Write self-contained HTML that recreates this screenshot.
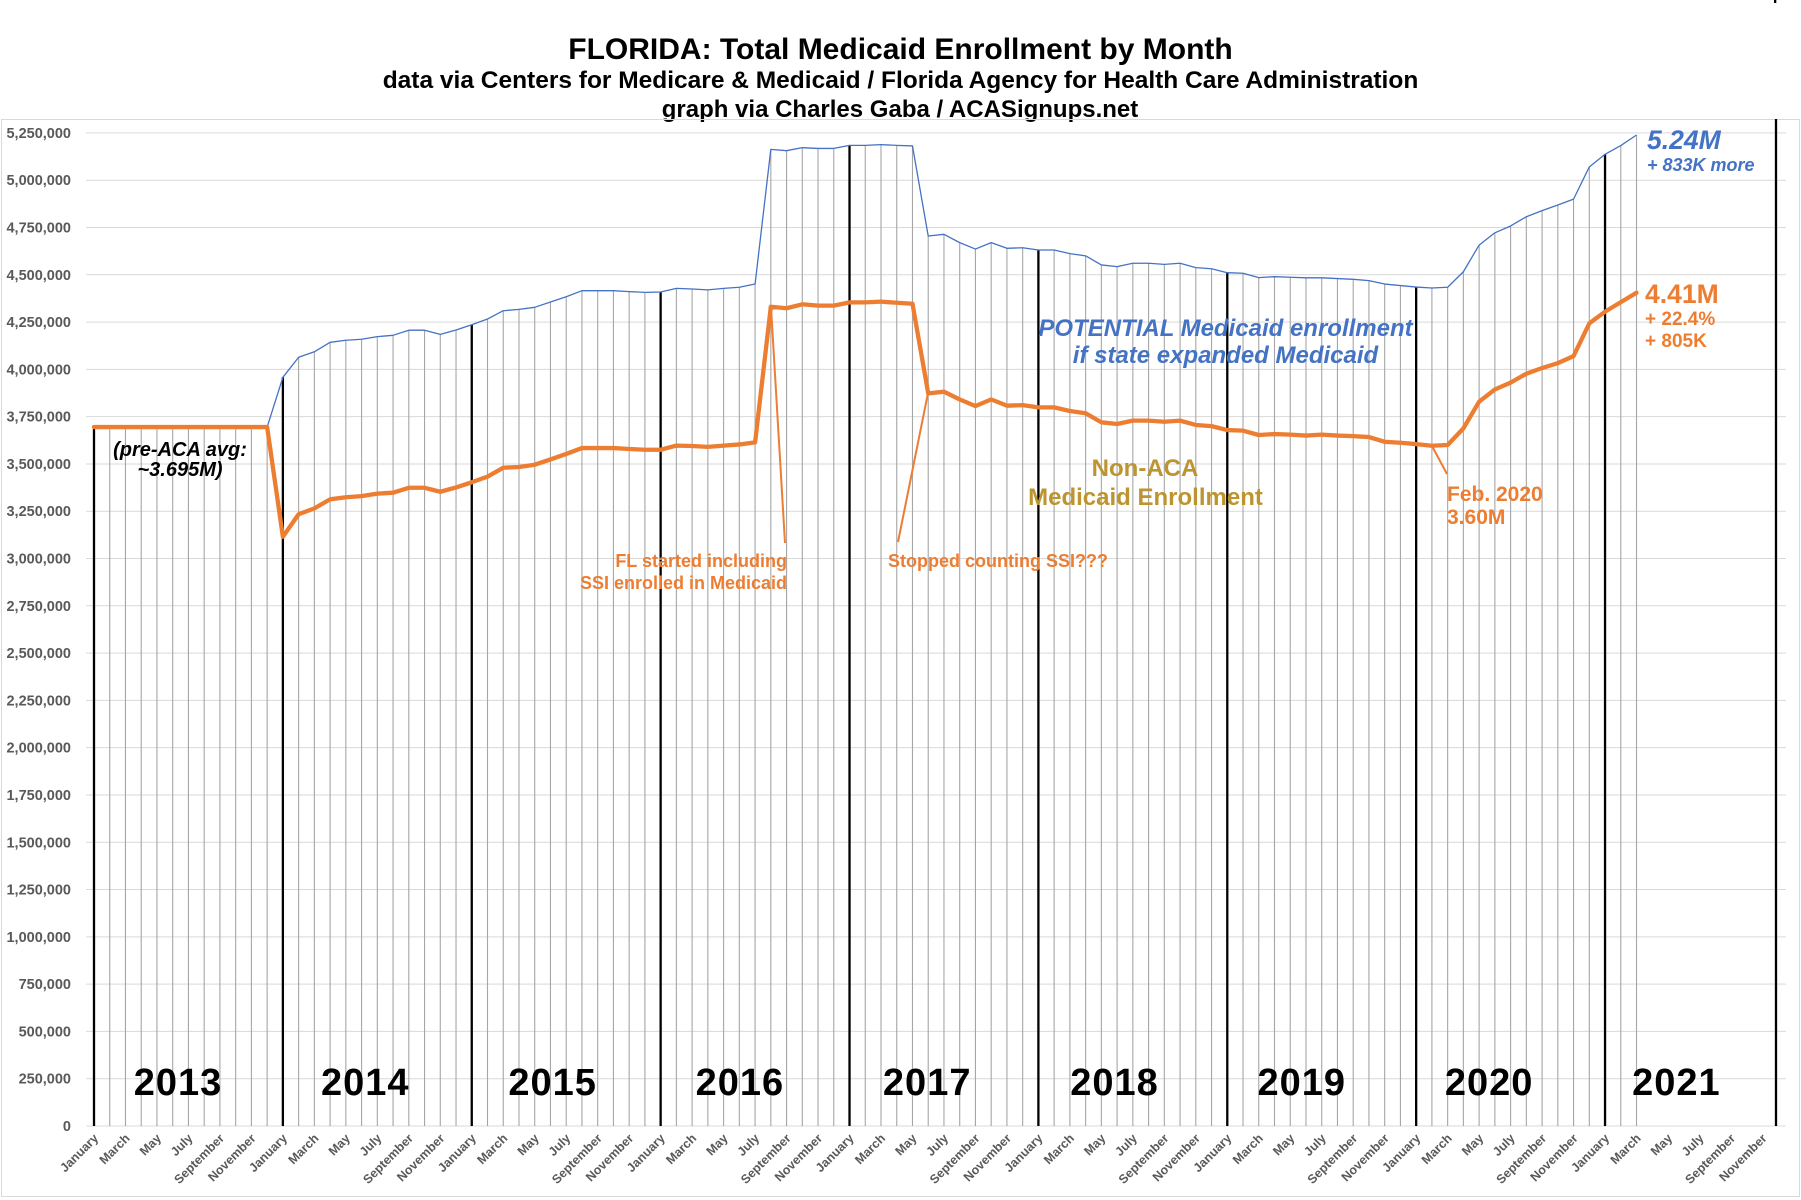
<!DOCTYPE html>
<html><head><meta charset="utf-8"><style>
html,body{margin:0;padding:0;background:#fff;}
svg{display:block;font-family:"Liberation Sans",Arial,sans-serif;}
</style></head><body>
<svg width="1801" height="1200" viewBox="0 0 1801 1200" xmlns="http://www.w3.org/2000/svg">
<rect x="0" y="0" width="1801" height="1200" fill="#fff"/>
<!-- titles -->
<text x="900.5" y="59" text-anchor="middle" font-size="30" font-weight="bold" fill="#000">FLORIDA: Total Medicaid Enrollment by Month</text>
<text x="900.5" y="88" text-anchor="middle" font-size="24.5" font-weight="bold" fill="#000">data via Centers for Medicare &amp; Medicaid / Florida Agency for Health Care Administration</text>
<text x="900" y="117" text-anchor="middle" font-size="24" font-weight="bold" fill="#000">graph via Charles Gaba / ACASignups.net</text>
<!-- plot border -->
<rect x="1.5" y="119.5" width="1798" height="1077" fill="none" stroke="#d9d9d9" stroke-width="1"/>
<rect x="1774" y="0" width="2.3" height="3" fill="#000"/>
<!-- gridlines -->
<path fill="none" stroke="#d9d9d9" stroke-width="1" d="M86,1126H1786M86,1078.71H1786M86,1031.42H1786M86,984.13H1786M86,936.84H1786M86,889.55H1786M86,842.26H1786M86,794.97H1786M86,747.68H1786M86,700.39H1786M86,653.1H1786M86,605.81H1786M86,558.52H1786M86,511.23H1786M86,463.94H1786M86,416.65H1786M86,369.36H1786M86,322.07H1786M86,274.78H1786M86,227.49H1786M86,180.2H1786M86,132.91H1786"/>
<!-- y labels -->
<g font-size="14.5" font-weight="bold" fill="#595959" text-anchor="end">
<text x="71" y="1131">0</text>
<text x="71" y="1083.7">250,000</text>
<text x="71" y="1036.4">500,000</text>
<text x="71" y="989.1">750,000</text>
<text x="71" y="941.8">1,000,000</text>
<text x="71" y="894.5">1,250,000</text>
<text x="71" y="847.3">1,500,000</text>
<text x="71" y="800">1,750,000</text>
<text x="71" y="752.7">2,000,000</text>
<text x="71" y="705.4">2,250,000</text>
<text x="71" y="658.1">2,500,000</text>
<text x="71" y="610.8">2,750,000</text>
<text x="71" y="563.5">3,000,000</text>
<text x="71" y="516.2">3,250,000</text>
<text x="71" y="468.9">3,500,000</text>
<text x="71" y="421.6">3,750,000</text>
<text x="71" y="374.4">4,000,000</text>
<text x="71" y="327.1">4,250,000</text>
<text x="71" y="279.8">4,500,000</text>
<text x="71" y="232.5">4,750,000</text>
<text x="71" y="185.2">5,000,000</text>
<text x="71" y="137.9">5,250,000</text>
</g>
<!-- data group -->
<g transform="translate(94,1126) scale(15.74,-189.16)" fill="none">
<path vector-effect="non-scaling-stroke" stroke="#a6a6a6" stroke-width="1.1" d="M0,0V3.695M1,0V3.695M2,0V3.695M3,0V3.695M4,0V3.695M5,0V3.695M6,0V3.695M7,0V3.695M8,0V3.695M9,0V3.695M10,0V3.695M11,0V3.695M12,0V3.958M13,0V4.064M14,0V4.093M15,0V4.143M16,0V4.154M17,0V4.159M18,0V4.173M19,0V4.18M20,0V4.207M21,0V4.207M22,0V4.185M23,0V4.208M24,0V4.236M25,0V4.266M26,0V4.31M27,0V4.317M28,0V4.328M29,0V4.356M30,0V4.384M31,0V4.416M32,0V4.416M33,0V4.416M34,0V4.411M35,0V4.407M36,0V4.409M37,0V4.428M38,0V4.425M39,0V4.42M40,0V4.428M41,0V4.434M42,0V4.451M43,0V5.163M44,0V5.156M45,0V5.172M46,0V5.168M47,0V5.168M48,0V5.184M49,0V5.184M50,0V5.188M51,0V5.184M52,0V5.181M53,0V4.705M54,0V4.714M55,0V4.67M56,0V4.636M57,0V4.67M58,0V4.64M59,0V4.643M60,0V4.631M61,0V4.631M62,0V4.612M63,0V4.6M64,0V4.552M65,0V4.543M66,0V4.561M67,0V4.561M68,0V4.555M69,0V4.561M70,0V4.538M71,0V4.532M72,0V4.511M73,0V4.508M74,0V4.485M75,0V4.49M76,0V4.487M77,0V4.484M78,0V4.484M79,0V4.48M80,0V4.476M81,0V4.469M82,0V4.451M83,0V4.443M84,0V4.435M85,0V4.43M86,0V4.434M87,0V4.516M88,0V4.657M89,0V4.722M90,0V4.758M91,0V4.807M92,0V4.839M93,0V4.869M94,0V4.9M95,0V5.07M96,0V5.137M97,0V5.183M98,0V5.239"/>
<path vector-effect="non-scaling-stroke" stroke="#000" stroke-width="2.3" d="M0,0V3.695M12,0V3.958M24,0V4.236M36,0V4.409M48,0V5.184M60,0V4.631M72,0V4.511M84,0V4.435M96,0V5.137"/>
<polyline vector-effect="non-scaling-stroke" stroke="#4472c4" stroke-width="1.3" stroke-linejoin="round" points="0,3.695 1,3.695 2,3.695 3,3.695 4,3.695 5,3.695 6,3.695 7,3.695 8,3.695 9,3.695 10,3.695 11,3.695 12,3.958 13,4.064 14,4.093 15,4.143 16,4.154 17,4.159 18,4.173 19,4.18 20,4.207 21,4.207 22,4.185 23,4.208 24,4.236 25,4.266 26,4.31 27,4.317 28,4.328 29,4.356 30,4.384 31,4.416 32,4.416 33,4.416 34,4.411 35,4.407 36,4.409 37,4.428 38,4.425 39,4.42 40,4.428 41,4.434 42,4.451 43,5.163 44,5.156 45,5.172 46,5.168 47,5.168 48,5.184 49,5.184 50,5.188 51,5.184 52,5.181 53,4.705 54,4.714 55,4.67 56,4.636 57,4.67 58,4.64 59,4.643 60,4.631 61,4.631 62,4.612 63,4.6 64,4.552 65,4.543 66,4.561 67,4.561 68,4.555 69,4.561 70,4.538 71,4.532 72,4.511 73,4.508 74,4.485 75,4.49 76,4.487 77,4.484 78,4.484 79,4.48 80,4.476 81,4.469 82,4.451 83,4.443 84,4.435 85,4.43 86,4.434 87,4.516 88,4.657 89,4.722 90,4.758 91,4.807 92,4.839 93,4.869 94,4.9 95,5.07 96,5.137 97,5.183 98,5.239"/>
<polyline vector-effect="non-scaling-stroke" stroke="#ed7d31" stroke-width="4.3" stroke-linejoin="round" stroke-linecap="round" points="0,3.695 1,3.695 2,3.695 3,3.695 4,3.695 5,3.695 6,3.695 7,3.695 8,3.695 9,3.695 10,3.695 11,3.695 12,3.115 13,3.234 14,3.265 15,3.313 16,3.324 17,3.33 18,3.343 19,3.348 20,3.374 21,3.374 22,3.353 23,3.376 24,3.403 25,3.433 26,3.48 27,3.484 28,3.496 29,3.524 30,3.553 31,3.584 32,3.584 33,3.584 34,3.579 35,3.575 36,3.575 37,3.597 38,3.595 39,3.59 40,3.597 41,3.603 42,3.614 43,4.331 44,4.323 45,4.344 46,4.337 47,4.337 48,4.354 49,4.354 50,4.358 51,4.352 52,4.347 53,3.873 54,3.882 55,3.841 56,3.806 57,3.841 58,3.808 59,3.811 60,3.799 61,3.799 62,3.78 63,3.768 64,3.72 65,3.711 66,3.729 67,3.729 68,3.723 69,3.729 70,3.706 71,3.7 72,3.679 73,3.676 74,3.653 75,3.658 76,3.655 77,3.65 78,3.655 79,3.65 80,3.647 81,3.642 82,3.617 83,3.612 84,3.605 85,3.596 86,3.6 87,3.688 88,3.829 89,3.894 90,3.93 91,3.977 92,4.007 93,4.033 94,4.07 95,4.243 96,4.305 97,4.355 98,4.405"/>
</g>
<!-- final black line -->
<line x1="1776" y1="119" x2="1776" y2="1126" stroke="#000" stroke-width="2.3"/>
<!-- leader lines -->
<g stroke="#ed7d31" stroke-width="2" fill="none">
<line x1="771" y1="307" x2="785" y2="543"/>
<line x1="898" y1="542" x2="928" y2="393"/>
<line x1="1432" y1="446" x2="1447" y2="474"/>
</g>
<!-- x labels -->
<g font-size="12.5" font-weight="bold" fill="#595959" text-anchor="end">
<text transform="translate(99,1139) rotate(-45)">January</text>
<text transform="translate(130.48,1139) rotate(-45)">March</text>
<text transform="translate(161.96,1139) rotate(-45)">May</text>
<text transform="translate(193.44,1139) rotate(-45)">July</text>
<text transform="translate(224.92,1139) rotate(-45)">September</text>
<text transform="translate(256.4,1139) rotate(-45)">November</text>
<text transform="translate(287.88,1139) rotate(-45)">January</text>
<text transform="translate(319.36,1139) rotate(-45)">March</text>
<text transform="translate(350.84,1139) rotate(-45)">May</text>
<text transform="translate(382.32,1139) rotate(-45)">July</text>
<text transform="translate(413.8,1139) rotate(-45)">September</text>
<text transform="translate(445.28,1139) rotate(-45)">November</text>
<text transform="translate(476.76,1139) rotate(-45)">January</text>
<text transform="translate(508.24,1139) rotate(-45)">March</text>
<text transform="translate(539.72,1139) rotate(-45)">May</text>
<text transform="translate(571.2,1139) rotate(-45)">July</text>
<text transform="translate(602.68,1139) rotate(-45)">September</text>
<text transform="translate(634.16,1139) rotate(-45)">November</text>
<text transform="translate(665.64,1139) rotate(-45)">January</text>
<text transform="translate(697.12,1139) rotate(-45)">March</text>
<text transform="translate(728.6,1139) rotate(-45)">May</text>
<text transform="translate(760.08,1139) rotate(-45)">July</text>
<text transform="translate(791.56,1139) rotate(-45)">September</text>
<text transform="translate(823.04,1139) rotate(-45)">November</text>
<text transform="translate(854.52,1139) rotate(-45)">January</text>
<text transform="translate(886,1139) rotate(-45)">March</text>
<text transform="translate(917.48,1139) rotate(-45)">May</text>
<text transform="translate(948.96,1139) rotate(-45)">July</text>
<text transform="translate(980.44,1139) rotate(-45)">September</text>
<text transform="translate(1011.92,1139) rotate(-45)">November</text>
<text transform="translate(1043.4,1139) rotate(-45)">January</text>
<text transform="translate(1074.88,1139) rotate(-45)">March</text>
<text transform="translate(1106.36,1139) rotate(-45)">May</text>
<text transform="translate(1137.84,1139) rotate(-45)">July</text>
<text transform="translate(1169.32,1139) rotate(-45)">September</text>
<text transform="translate(1200.8,1139) rotate(-45)">November</text>
<text transform="translate(1232.28,1139) rotate(-45)">January</text>
<text transform="translate(1263.76,1139) rotate(-45)">March</text>
<text transform="translate(1295.24,1139) rotate(-45)">May</text>
<text transform="translate(1326.72,1139) rotate(-45)">July</text>
<text transform="translate(1358.2,1139) rotate(-45)">September</text>
<text transform="translate(1389.68,1139) rotate(-45)">November</text>
<text transform="translate(1421.16,1139) rotate(-45)">January</text>
<text transform="translate(1452.64,1139) rotate(-45)">March</text>
<text transform="translate(1484.12,1139) rotate(-45)">May</text>
<text transform="translate(1515.6,1139) rotate(-45)">July</text>
<text transform="translate(1547.08,1139) rotate(-45)">September</text>
<text transform="translate(1578.56,1139) rotate(-45)">November</text>
<text transform="translate(1610.04,1139) rotate(-45)">January</text>
<text transform="translate(1641.52,1139) rotate(-45)">March</text>
<text transform="translate(1673,1139) rotate(-45)">May</text>
<text transform="translate(1704.48,1139) rotate(-45)">July</text>
<text transform="translate(1735.96,1139) rotate(-45)">September</text>
<text transform="translate(1767.44,1139) rotate(-45)">November</text>
</g>
<!-- year labels -->
<g font-size="38" font-weight="bold" fill="#000" text-anchor="middle" letter-spacing="1">
<text x="178" y="1095">2013</text>
<text x="365.3" y="1095">2014</text>
<text x="552.6" y="1095">2015</text>
<text x="739.9" y="1095">2016</text>
<text x="927.2" y="1095">2017</text>
<text x="1114.5" y="1095">2018</text>
<text x="1301.8" y="1095">2019</text>
<text x="1489.1" y="1095">2020</text>
<text x="1676.4" y="1095">2021</text>
</g>
<!-- annotations -->
<g font-size="20" font-weight="bold" font-style="italic" fill="#000" text-anchor="middle">
<text x="180" y="456">(pre-ACA avg:</text>
<text x="180" y="476">~3.695M)</text>
</g>
<g font-size="18" font-weight="bold" fill="#ed7d31">
<text x="787" y="567" text-anchor="end">FL started including</text>
<text x="787" y="589" text-anchor="end">SSI enrolled in Medicaid</text>
<text x="888" y="567">Stopped counting SSI???</text>
</g>
<g font-size="24" font-weight="bold" font-style="italic" fill="#4472c4" text-anchor="middle">
<text x="1225.5" y="336">POTENTIAL Medicaid enrollment</text>
<text x="1225.5" y="363">if state expanded Medicaid</text>
</g>
<g font-size="24" font-weight="bold" fill="#bc9530" text-anchor="middle">
<text x="1145" y="476">Non-ACA</text>
<text x="1145.5" y="505">Medicaid Enrollment</text>
</g>
<g font-size="21" font-weight="bold" fill="#ed7d31">
<text x="1447" y="501">Feb. 2020</text>
<text x="1447" y="524">3.60M</text>
</g>
<g font-weight="bold" font-style="italic" fill="#4472c4">
<text x="1647" y="149" font-size="26.5">5.24M</text>
<text x="1647" y="171" font-size="18">+ 833K more</text>
</g>
<g font-weight="bold" fill="#ed7d31">
<text x="1645" y="303" font-size="26.5">4.41M</text>
<text x="1645" y="325" font-size="19">+ 22.4%</text>
<text x="1645" y="347" font-size="19">+ 805K</text>
</g>
</svg>
</body></html>
